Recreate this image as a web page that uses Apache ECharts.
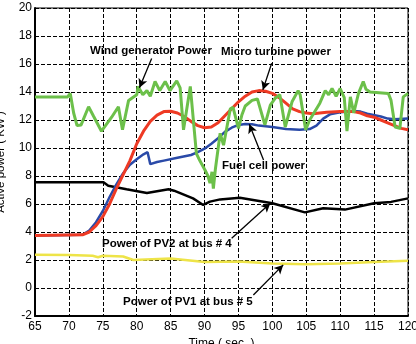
<!DOCTYPE html>
<html>
<head>
<meta charset="utf-8">
<script src="https://cdn.jsdelivr.net/npm/echarts@6/dist/echarts.min.js"></script>
<style>
  html, body { margin: 0; padding: 0; background: #fff; }
  #chart { width: 416px; height: 344px; }
</style>
</head>
<body>
<div id="chart"></div>
<script>
// time (s), active power (kW)
const wind = [
  [65, 13.65], [69.8, 13.65], [70.2, 13.9], [70.7, 12.5], [71.2, 11.6], [71.8, 11.65],
  [72.9, 12.95], [73.6, 12.3], [74.8, 11.2], [76.3, 12.2], [77.3, 12.95], [77.9, 11.3],
  [78.8, 13.4], [80, 13.8], [80.2, 14.4], [80.9, 13.8], [81.5, 14.1], [82, 13.7],
  [82.7, 14.75], [83.4, 14.1], [84.2, 14.75], [84.9, 14.1], [85.9, 14.8], [86.4, 14.3],
  [86.9, 11.3], [87.9, 14.4], [88.8, 9.6], [89.3, 9.1], [90.1, 8.4], [90.5, 8.0],
  [90.8, 7.5], [91.1, 8.3], [91.3, 7.1], [91.6, 8.5], [92.3, 11.05], [92.8, 10.2],
  [93.8, 12.8], [94.2, 12.9], [95, 11.4], [95.5, 12.35], [96, 13.0], [97, 13.4],
  [97.8, 13.5], [98.9, 11.65], [99.7, 13.07], [100.4, 13.55], [101.1, 13.8], [101.9, 11.5],
  [102.9, 13.3], [103.8, 14.1], [104.1, 13.8], [104.9, 11.3], [105.5, 12.0], [107, 13.2],
  [107.8, 14.1], [108.3, 13.8], [108.8, 14.25], [109.4, 13.7], [110, 14.25], [110.6, 13.6],
  [111, 11.2], [111.5, 13.65], [112, 12.5], [112.7, 13.9], [113.4, 14.75], [113.8, 14.2],
  [114.4, 14.0], [117.1, 13.9], [117.5, 13.4], [118.1, 11.5], [118.8, 11.4], [119.3, 13.65],
  [120, 13.9]
];

const microTurbine = [
  [65, 3.75], [72, 3.8], [73, 4.0], [74, 4.45], [75, 5.1], [76, 6.0], [77, 7.1], [78, 8.1],
  [79, 9.1], [80, 10.3], [81, 11.2], [82, 11.9], [83, 12.35], [84, 12.6], [85, 12.62],
  [86, 12.5], [87, 12.25], [88, 11.9], [89, 11.6], [90, 11.45], [91, 11.5], [92, 11.8],
  [93, 12.3], [94, 12.8], [95, 13.3], [96, 13.7], [97, 14.0], [98, 14.1], [99, 14.05],
  [100, 13.9], [101, 13.6], [102, 13.2], [103, 12.8], [104, 12.6], [105, 12.5], [106, 12.45],
  [108, 12.55], [110, 12.6], [112, 12.6], [113, 12.5], [114, 12.3], [115, 12.2], [116, 12.0],
  [117, 11.8], [118, 11.6], [119, 11.4], [120, 11.3]
];

const fuelCell = [
  [65, 3.75], [72, 3.8], [73, 4.1], [74, 4.7], [75, 5.5], [76, 6.5], [77, 7.4], [78, 8.2],
  [79, 8.8], [80, 9.2], [81, 9.55], [81.6, 9.7], [82, 8.85], [83, 9.0], [84, 9.1], [86, 9.3],
  [88, 9.5], [89, 9.7], [90, 9.95], [91, 10.3], [92, 10.7], [93, 11.15], [94, 11.45],
  [95, 11.65], [96, 11.72], [97, 11.7], [98, 11.6], [100, 11.5], [102, 11.35], [104, 11.3],
  [105.5, 11.35], [106.5, 11.6], [107.5, 12.1], [108.5, 12.4], [110, 12.55], [112, 12.65],
  [113, 12.6], [114, 12.45], [116, 12.25], [117, 12.1], [118, 12.05], [120, 12.1]
];

const pv2 = [
  [65, 7.55], [75.1, 7.55], [75.8, 7.3], [78.5, 7.05], [81.5, 6.78], [84.7, 7.05],
  [85.5, 6.95], [88.3, 6.4], [89.8, 5.93], [90.8, 6.17], [92.3, 6.33], [95.2, 6.45],
  [100, 6.05], [104.8, 5.4], [107.5, 5.7], [110.7, 5.6], [115, 6.05], [117.5, 6.15], [120, 6.4]
];

const pv1 = [
  [65, 2.38], [70, 2.35], [73.5, 2.3], [74.3, 2.2], [75, 2.3], [78, 2.25], [79.5, 2.0],
  [85, 2.1], [90, 1.85], [95, 1.9], [100, 1.75], [105, 1.7], [110, 1.75], [115, 1.85], [120, 1.95]
];

// arrow start/end in data units
const arrows = [
  [[82.2, 16.4], [80.4, 14.3]],
  [[99.9, 16.05], [98.6, 14.15]],
  [[98.7, 9.15], [96.6, 11.7]],
  [[94.0, 3.55], [99.7, 6.05]],
  [[97.2, -0.5], [101.6, 1.65]]
];

const labels = [
  { text: "Wind generator Power", x: 90, y: 52 },
  { text: "Micro turbine power", x: 221, y: 53 },
  { text: "Fuel cell power", x: 222, y: 167 },
  { text: "Power of PV2 at bus # 4", x: 102, y: 245 },
  { text: "Power of PV1 at bus # 5", x: 123, y: 303 }
];

const FONT = "'Liberation Sans', Arial, sans-serif";

function line(name, data, color, width) {
  return {
    name,
    type: "line",
    data,
    showSymbol: false,
    animation: false,
    lineStyle: { color, width },
    itemStyle: { color },
    z: 3
  };
}

const chart = echarts.init(document.getElementById("chart"));

const series = [
  line("PV1", pv1, "#eee448", 2.5),
  line("PV2", pv2, "#000000", 2.5),
  line("Fuel cell", fuelCell, "#2a4aa8", 2.5),
  line("Micro turbine", microTurbine, "#ee3a24", 3),
  line("Wind", wind, "#6cc04a", 3)
];

series.push({
  type: "line",
  data: [],
  silent: true,
  animation: false,
  markLine: {
    silent: true,
    animation: false,
    symbol: ["none", "arrow"],
    symbolSize: [7, 9],
    label: { show: false },
    lineStyle: { color: "#000", width: 1.3, type: "solid" },
    data: arrows.map(a => [{ coord: a[0] }, { coord: a[1] }])
  },
  z: 5
});

const gridLine = { show: true, lineStyle: { color: "#000", type: "dashed", width: 1 } };

chart.setOption({
  backgroundColor: "#fff",
  textStyle: { fontFamily: FONT },
  grid: {
    left: 35, right: 8, top: 8, bottom: 28,
    outerBoundsMode: "none",
    containLabel: false,
    show: true,
    borderColor: "#000",
    borderWidth: 1
  },
  xAxis: {
    type: "value",
    min: 65, max: 120, interval: 5,
    name: "Time ( sec. )",
    nameLocation: "middle",
    nameGap: 21,
    nameTextStyle: { color: "#000", fontSize: 12, fontFamily: FONT },
    axisLine: { show: true, onZero: false, lineStyle: { color: "#000", width: 2 } },
    axisTick: { show: false },
    axisLabel: { color: "#000", fontSize: 12, margin: 5, fontFamily: FONT },
    splitLine: gridLine
  },
  yAxis: {
    type: "value",
    min: -2, max: 20, interval: 2,
    name: "Active power ( KW )",
    nameLocation: "middle",
    nameGap: 28,
    nameTextStyle: { color: "#000", fontSize: 11.5, fontFamily: FONT },
    axisLine: { show: true, onZero: false, lineStyle: { color: "#000", width: 2 } },
    axisTick: { show: false },
    axisLabel: { color: "#000", fontSize: 12, margin: 3, fontFamily: FONT },
    splitLine: gridLine
  },
  series,
  graphic: labels.map(l => ({
    type: "text",
    left: l.x,
    top: l.y - 7,
    z: 10,
    style: {
      text: l.text,
      fill: "#000",
      font: "bold 11.5px " + FONT
    }
  }))
});
</script>
</body>
</html>
